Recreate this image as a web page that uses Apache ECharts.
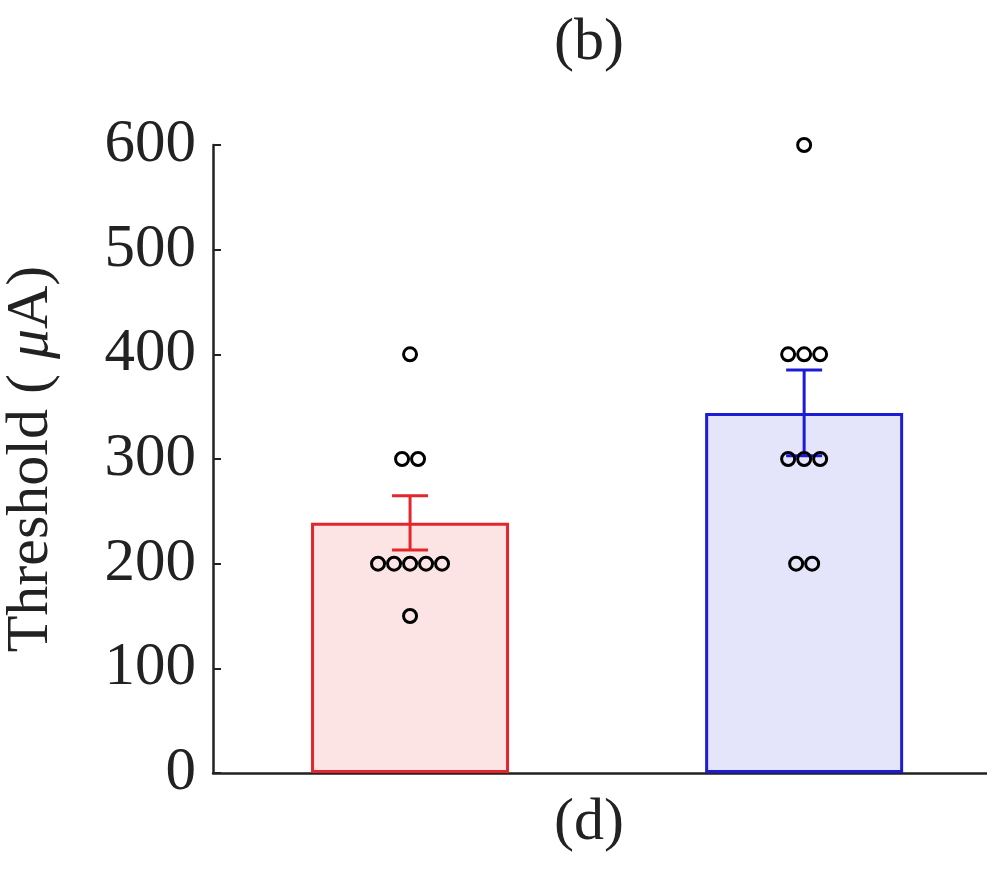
<!DOCTYPE html>
<html>
<head>
<meta charset="utf-8">
<script src="https://cdn.jsdelivr.net/npm/echarts@6/dist/echarts.min.js"></script>
<style>
  html, body { margin: 0; padding: 0; background: #fff; }
  #chart { width: 987px; height: 871px; }
</style>
</head>
<body>
<div id="chart"></div>
<script>
// Two groups, each with a mean bar, SEM error bar and the individual thresholds.
const groupPositions = [0.5, 1.5];
const meanThreshold = [239, 344];
const semThreshold = [26, 41];
const groupAPoints = [400, 300, 300, 200, 200, 200, 200, 200, 150];
const groupBPoints = [600, 400, 400, 400, 300, 300, 300, 200, 200];
const yTicks = [0, 100, 200, 300, 400, 500, 600];

const edgeColors = ['#e3262b', '#1c1cd6'];
const fillColors = ['#fde4e4', '#e4e4fa'];
const serif = '"Liberation Serif", "Times New Roman", serif';

// Spread repeated values side by side, centred on the group.
const DOT_STEP = 16;
function swarm(x, values) {
  const counts = {};
  values.forEach(v => { counts[v] = (counts[v] || 0) + 1; });
  const seen = {};
  return values.map(v => {
    const k = seen[v] = (seen[v] || 0) + 1;
    const dx = (k - 1 - (counts[v] - 1) / 2) * DOT_STEP;
    return { value: [x, v], symbolOffset: [dx, 0] };
  });
}
const dots = swarm(groupPositions[0], groupAPoints).concat(swarm(groupPositions[1], groupBPoints));

const chart = echarts.init(document.getElementById('chart'), null, { renderer: 'canvas' });
chart.setOption({
  animation: false,
  backgroundColor: '#ffffff',
  title: [
    { text: '(b)', left: 584, top: 8, textAlign: 'center',
      textStyle: { fontFamily: serif, fontSize: 60, fontWeight: 'normal', color: '#222' } },
    { text: '(d)', left: 584, top: 788, textAlign: 'center',
      textStyle: { fontFamily: serif, fontSize: 60, fontWeight: 'normal', color: '#222' } }
  ],
  grid: { left: 213, top: 145, right: 0, height: 628, containLabel: false, outerBoundsMode: 'none' },
  xAxis: {
    type: 'value',
    min: 0, max: 1.964,
    axisLine: { show: true, onZero: false, lineStyle: { color: '#222', width: 2.5 } },
    axisTick: { show: false },
    axisLabel: { show: false },
    splitLine: { show: false }
  },
  yAxis: {
    type: 'value',
    min: 0, max: 600, interval: 100,
    name: '{t|Threshold (}{m| μ}{t|A)}',
    nameLocation: 'middle',
    nameGap: 152,
    nameRotate: 90,
    nameTextStyle: {
      rich: {
        t: { fontFamily: serif, fontSize: 60, color: '#222' },
        m: { fontFamily: serif, fontSize: 60, fontStyle: 'italic', color: '#222' }
      }
    },
    axisLine: { show: true, lineStyle: { color: '#222', width: 2.5 } },
    axisTick: { show: true, inside: true, length: 8, lineStyle: { color: '#222', width: 2 } },
    axisLabel: {
      margin: 17, fontFamily: serif, fontSize: 61, color: '#222',
      formatter: v => yTicks.includes(v) ? String(v) : ''
    },
    splitLine: { show: false }
  },
  series: [
    {
      type: 'bar',
      barWidth: 198,
      z: 1,
      data: meanThreshold.map((v, i) => ({
        value: [groupPositions[i], v],
        itemStyle: { color: fillColors[i], borderColor: edgeColors[i], borderWidth: 3 }
      }))
    },
    {
      type: 'custom',
      z: 3,
      data: meanThreshold.map((m, i) => [groupPositions[i], m - semThreshold[i], m + semThreshold[i], i]),
      renderItem: (params, api) => {
        const x = api.value(0);
        const lo = api.coord([x, api.value(1)]);
        const hi = api.coord([x, api.value(2)]);
        const half = 18;
        const style = { stroke: edgeColors[api.value(3)], lineWidth: 3 };
        return {
          type: 'group',
          children: [
            { type: 'line', shape: { x1: lo[0], y1: lo[1], x2: hi[0], y2: hi[1] }, style },
            { type: 'line', shape: { x1: lo[0] - half, y1: lo[1], x2: lo[0] + half, y2: lo[1] }, style },
            { type: 'line', shape: { x1: hi[0] - half, y1: hi[1], x2: hi[0] + half, y2: hi[1] }, style }
          ]
        };
      }
    },
    {
      type: 'scatter',
      z: 5,
      symbol: 'circle',
      symbolSize: 13,
      itemStyle: { color: 'rgba(0,0,0,0)', borderColor: '#000', borderWidth: 3, opacity: 1 },
      data: dots
    }
  ]
});
</script>
</body>
</html>
